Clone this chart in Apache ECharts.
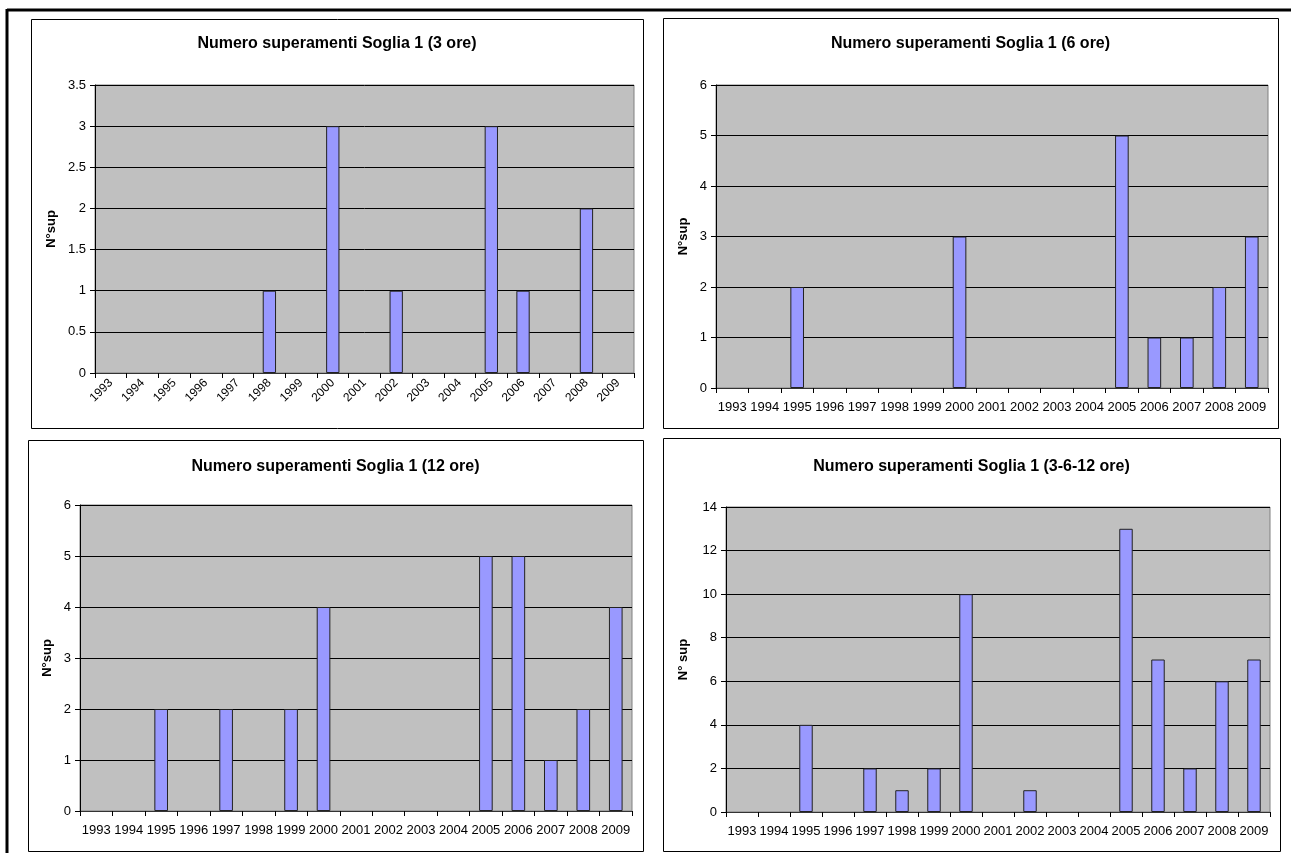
<!DOCTYPE html>
<html>
<head>
<meta charset="utf-8">
<script src="https://cdn.jsdelivr.net/npm/echarts@6/dist/echarts.min.js"></script>
<style>
html,body{margin:0;padding:0;background:#fff;}
#chart{width:1291px;height:853px;}
</style>
</head>
<body>
<div id="chart"></div>
<script>
const years = ['1993','1994','1995','1996','1997','1998','1999','2000','2001','2002','2003','2004','2005','2006','2007','2008','2009'];
const sup3h  = [0,0,0,0,0,1,0,3,0,1,0,0,3,1,0,2,0];
const sup6h  = [0,0,2,0,0,0,0,3,0,0,0,0,5,1,1,2,3];
const sup12h = [0,0,2,0,2,0,2,4,0,0,0,0,5,5,1,2,4];
const supAll = [0,0,4,0,2,1,2,10,0,1,0,0,13,7,2,6,7];
const titles = [
  'Numero superamenti Soglia 1 (3 ore)',
  'Numero superamenti Soglia 1 (6 ore)',
  'Numero superamenti Soglia 1 (12 ore)',
  'Numero superamenti Soglia 1 (3-6-12 ore)'
];
const yNames = ['N°sup','N°sup','N°sup','N° sup'];
const yMax = [3.5, 6, 6, 14];
const yStep = [0.5, 1, 1, 2];

const FONT = 'Liberation Sans, Arial, sans-serif';
const grids = [
  {left:95, top:85, width:539, height:288},
  {left:716, top:85, width:552, height:303},
  {left:80, top:505, width:552, height:306},
  {left:726, top:507, width:544, height:305}
];
const frames = [
  {x:31, y:19, w:612, h:409},
  {x:663, y:18, w:615, h:410},
  {x:28, y:440, w:615, h:411},
  {x:663, y:438, w:617, h:413}
];
const titleY = [36, 36, 459, 459];
const nameGaps = [37, 26, 26, 36];
const seriesData = [sup3h, sup6h, sup12h, supAll];

const option = {
  animation:false,
  backgroundColor:'#fff',
  title: titles.map((t,i)=>({
    text:t,
    left: frames[i].x + frames[i].w/2,
    textAlign:'center',
    top: titleY[i],
    padding:0,
    textStyle:{fontFamily:FONT, fontSize:16, fontWeight:'bold', color:'#000'}
  })),
  grid: grids.map(g=>({left:g.left, top:g.top, width:g.width, height:g.height, show:true,
    backgroundColor:'#C0C0C0', borderColor:'#808080', borderWidth:1, containLabel:false})),
  xAxis: grids.map((g,i)=>({
    type:'category', gridIndex:i, data:years, boundaryGap:true,
    axisLine:{show:true, lineStyle:{color:'#333', width:1}},
    axisTick:{show:true, length:5, lineStyle:{color:'#000'}},
    axisLabel:{fontFamily:FONT, fontSize: i===0 ? 12 : 13, color:'#000',
      rotate: i===0 ? 45 : 0, margin: i===0 ? 8 : 13, interval:0},
    splitLine:{show:false}
  })),
  yAxis: grids.map((g,i)=>({
    type:'value', gridIndex:i, min:0, max:yMax[i], interval:yStep[i],
    name:yNames[i], nameLocation:'middle', nameGap:nameGaps[i],
    nameTextStyle:{fontFamily:FONT, fontSize:13, fontWeight:'bold', color:'#000'},
    axisLine:{show:true, lineStyle:{color:'#000', width:1}},
    axisTick:{show:true, length:5, lineStyle:{color:'#000'}},
    axisLabel:{fontFamily:FONT, fontSize:13, color:'#000', margin:9},
    splitLine:{show:true, lineStyle:{color:'#000', width:1}}
  })),
  series: seriesData.map((d,i)=>({
    type:'bar', xAxisIndex:i, yAxisIndex:i,
    data:d.map(v => v === 0 ? null : v),
    barCategoryGap:'58%',
    itemStyle:{color:'#9999FF', borderColor:'#222', borderWidth:1}
  })),
  graphic: [
    {type:'line', shape:{x1:7, y1:10, x2:1291, y2:10}, style:{stroke:'#000', lineWidth:3}, z:100},
    {type:'line', shape:{x1:7, y1:9, x2:7, y2:853}, style:{stroke:'#000', lineWidth:3}, z:100}
  ].concat(frames.map(f=>({
    type:'rect', shape:{x:f.x+0.5, y:f.y+0.5, width:f.w, height:f.h},
    style:{fill:null, stroke:'#000', lineWidth:1}, z:-1, silent:true
  })))
};
const chart = echarts.init(document.getElementById('chart'), null, {renderer:'canvas'});
chart.setOption(option);
</script>
</body>
</html>
